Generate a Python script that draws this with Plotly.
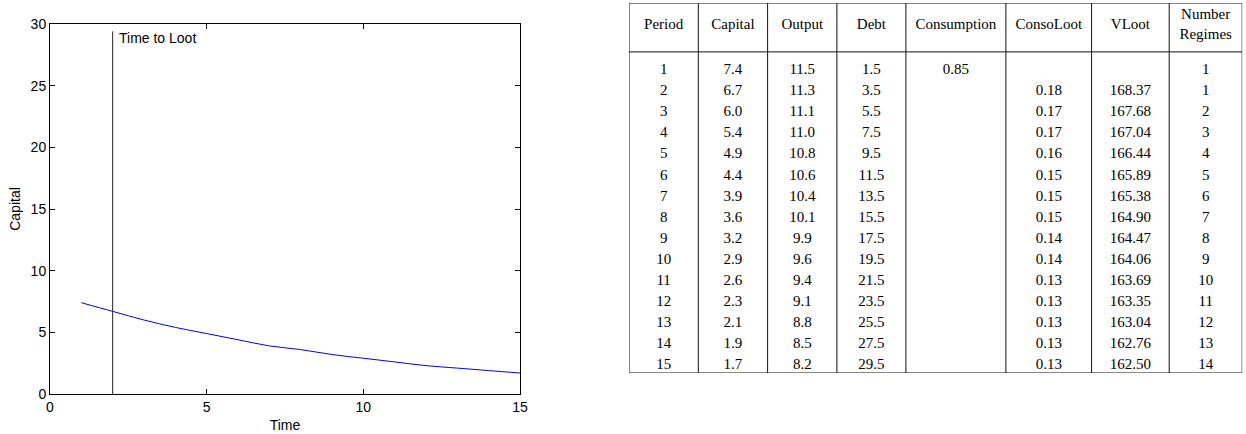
import plotly.graph_objects as go

# ---------------- data ----------------
period = [1, 2, 3, 4, 5, 6, 7, 8, 9, 10, 11, 12, 13, 14, 15]
capital = [7.4, 6.7, 6.0, 5.4, 4.9, 4.4, 3.9, 3.6, 3.2, 2.9, 2.6, 2.3, 2.1, 1.9, 1.7]
output = [11.5, 11.3, 11.1, 11.0, 10.8, 10.6, 10.4, 10.1, 9.9, 9.6, 9.4, 9.1, 8.8, 8.5, 8.2]
debt = [1.5, 3.5, 5.5, 7.5, 9.5, 11.5, 13.5, 15.5, 17.5, 19.5, 21.5, 23.5, 25.5, 27.5, 29.5]
consumption = ["0.85", "", "", "", "", "", "", "", "", "", "", "", "", "", ""]
conso_loot = ["", "0.18", "0.17", "0.17", "0.16", "0.15", "0.15", "0.15", "0.14", "0.14",
              "0.13", "0.13", "0.13", "0.13", "0.13"]
v_loot = ["", "168.37", "167.68", "167.04", "166.44", "165.89", "165.38", "164.90", "164.47",
          "164.06", "163.69", "163.35", "163.04", "162.76", "162.50"]
number_regimes = [1, 1, 2, 3, 4, 5, 6, 7, 8, 9, 10, 11, 12, 13, 14]

headers = ["Period", "Capital", "Output", "Debt", "Consumption", "ConsoLoot", "VLoot",
           "Number<br>Regimes"]

loot_time = 2
loot_line_top = 29.4
loot_label = "Time to Loot"

x_ticks = [0, 5, 10, 15]
y_ticks = [0, 5, 10, 15, 20, 25, 30]

# ---------------- layout constants ----------------
W, H = 1246, 434
SANS = "Liberation Sans, Arial, sans-serif"
SERIF = "Liberation Serif, Times New Roman, serif"

col_widths = [69.3, 69.3, 69.3, 69.0, 100.0, 85.7, 77.6, 73.0]
edges = [0.0]
for w in col_widths:
    edges.append(edges[-1] + w)
centers = [(edges[i] + edges[i + 1]) / 2 for i in range(len(col_widths))]

table_top_row = -2.2
header_row = -1.136
header_bottom_row = 0.12
table_bottom_row = 15.36

fig = go.Figure()

# ---------------- left chart ----------------
fig.add_trace(go.Scatter(x=period, y=capital, mode="lines",
                         line=dict(color="#0000ff", width=1, shape="spline", smoothing=1.0),
                         hoverinfo="skip", showlegend=False, xaxis="x", yaxis="y"))
fig.add_trace(go.Scatter(x=[loot_time, loot_time], y=[0, loot_line_top], mode="lines",
                         line=dict(color="#222222", width=1), hoverinfo="skip",
                         showlegend=False, xaxis="x", yaxis="y"))
fig.add_annotation(x=loot_time, y=loot_line_top, xref="x", yref="y", text=loot_label,
                   showarrow=False, xanchor="left", yanchor="top", xshift=4, yshift=3,
                   font=dict(family=SANS, size=14, color="black"))

# ---------------- table ----------------
columns = [period, capital, output, debt, consumption, conso_loot, v_loot, number_regimes]
for ci, col in enumerate(columns):
    fig.add_trace(go.Scatter(
        x=[centers[ci]] * len(col), y=period, mode="text",
        text=[str(v) for v in col], textposition="middle center",
        textfont=dict(family=SERIF, size=15, color="black"),
        hoverinfo="skip", showlegend=False, cliponaxis=False,
        xaxis="x2", yaxis="y2"))
fig.add_trace(go.Scatter(
    x=centers, y=[header_row] * len(headers), mode="text", text=headers,
    textposition="middle center", textfont=dict(family=SERIF, size=15, color="black"),
    hoverinfo="skip", showlegend=False, cliponaxis=False, xaxis="x2", yaxis="y2"))

line_style = dict(color="#111111", width=1)
for e in edges:
    fig.add_shape(type="line", xref="x2", yref="y2", x0=e, x1=e,
                  y0=table_top_row, y1=table_bottom_row, line=line_style)
for yy in [table_top_row, header_bottom_row, table_bottom_row]:
    fig.add_shape(type="line", xref="x2", yref="y2", x0=edges[0], x1=edges[-1],
                  y0=yy, y1=yy, line=line_style)

axis_common = dict(showgrid=False, zeroline=False, showline=True, linecolor="black",
                   linewidth=1, mirror="allticks", ticks="inside", ticklen=5,
                   tickcolor="black", tickwidth=1, automargin=False,
                   tickfont=dict(family=SANS, size=14, color="black"))

fig.update_layout(
    width=W, height=H,
    margin=dict(l=0, r=0, t=0, b=0, pad=0, autoexpand=False),
    paper_bgcolor="white", plot_bgcolor="white",
    showlegend=False,
    xaxis=dict(domain=[50 / W, 520 / W], range=[0, 15], tickvals=x_ticks,
               title=dict(text="Time", font=dict(family=SANS, size=14, color="black"),
                          standoff=6),
               anchor="y", **axis_common),
    yaxis=dict(domain=[1 - 394 / H, 1 - 24 / H], range=[0, 30], tickvals=y_ticks,
               title=dict(text="Capital", font=dict(family=SANS, size=14, color="black"),
                          standoff=6),
               anchor="x", **axis_common),
    xaxis2=dict(domain=[629 / W, (629 + edges[-1]) / W], range=[edges[0], edges[-1]],
                visible=False, anchor="y2", fixedrange=True, automargin=False),
    yaxis2=dict(domain=[1 - 373 / H, 1 - 3 / H], range=[table_bottom_row, table_top_row],
                visible=False, anchor="x2", fixedrange=True, automargin=False),
)

fig.write_html("out.html",
               config={"displayModeBar": False, "staticPlot": True},
               post_script="document.body.style.margin='0';"
                           "document.body.style.overflow='hidden';")
